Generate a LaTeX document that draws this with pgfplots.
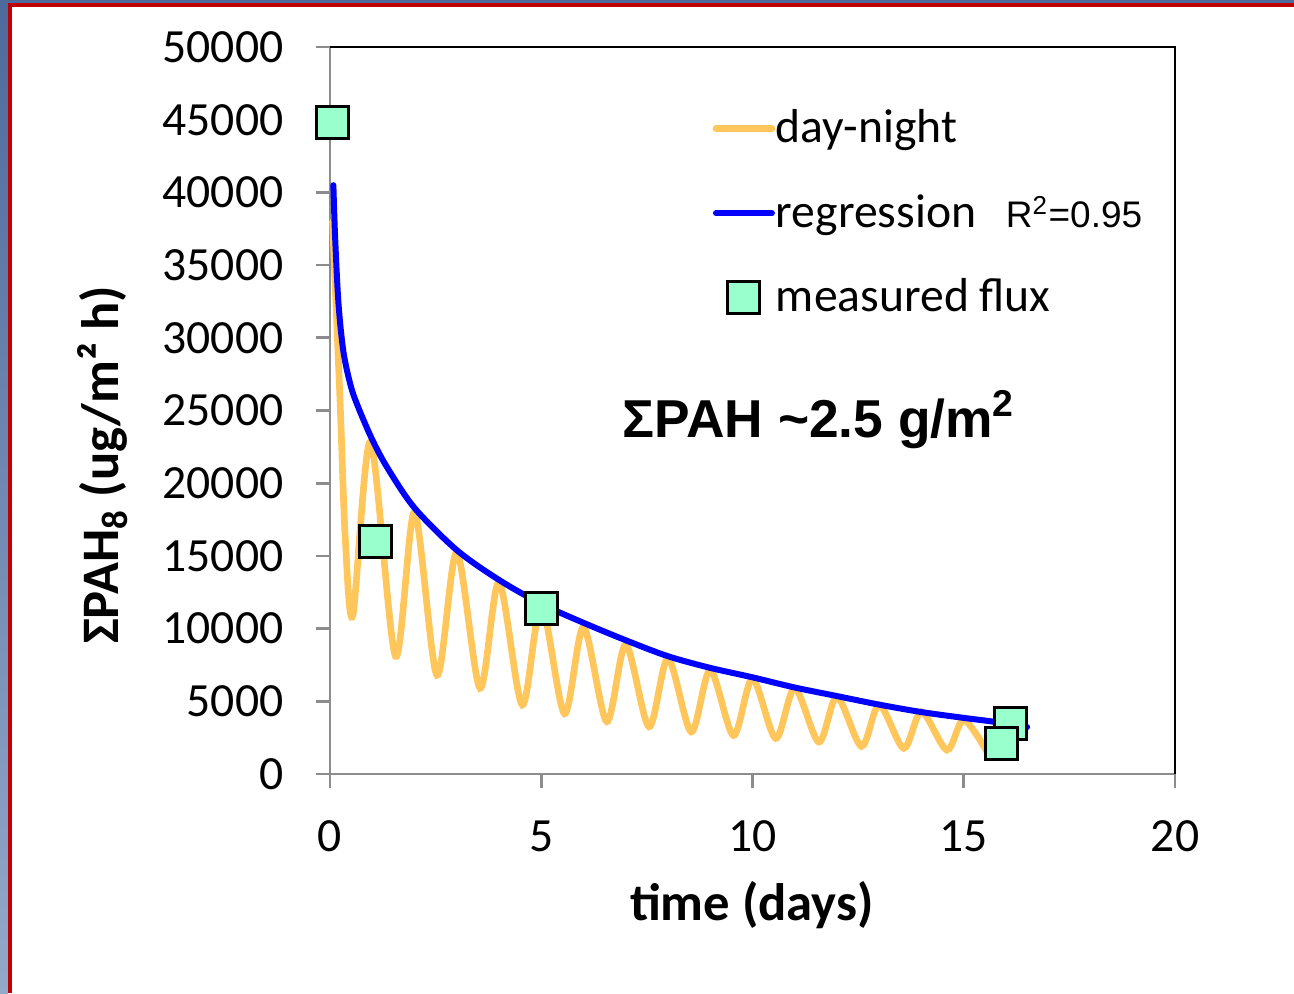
\documentclass[border=0pt]{standalone}
\usepackage{fontspec}
\setmainfont{Carlito}
\newfontfamily\arial{Liberation Sans}
\usepackage{pgfplots}
\pgfplotsset{compat=1.18}
\definecolor{daynight}{HTML}{FFC65C}
\definecolor{markfill}{HTML}{99FFCC}
\definecolor{axgray}{HTML}{8C8C8C}
\definecolor{slideblue}{HTML}{4D6A9C}
\definecolor{slidebluelight}{HTML}{94A8C9}
\definecolor{slidered}{HTML}{C00000}
\pgfplotsset{
  lineleg/.style={legend image code/.code={\draw[##1] (0pt,0pt) -- (16.8pt,0pt);}},
  markleg/.style={legend image code/.code={\draw[mark repeat=2,mark phase=2,##1] plot coordinates {(0pt,0pt)(8.4pt,0pt)(16.8pt,0pt)};}},
}

\begin{document}
\begin{tikzpicture}
% slide frame (1px = 0.3pt)
\path[use as bounding box] (-99pt,-65.7pt) rectangle (289.2pt,232.2pt);
\shade[top color=slideblue, bottom color=slidebluelight] (-99pt,-65.7pt) rectangle (-96.6pt,232.2pt);
\fill[slideblue] (-96.6pt,231.3pt) rectangle (289.2pt,232.2pt);
\fill[slidered] (-96.6pt,-65.7pt) rectangle (-95.4pt,231.3pt);
\fill[slidered] (-95.4pt,230.1pt) rectangle (289.2pt,231.3pt);

\begin{axis}[
  scale only axis, width=253.5pt, height=218.1pt,
  xmin=0, xmax=20, ymin=0, ymax=50000,
  xtick={0,5,10,15,20}, ytick={0,5000,...,50000},
  scaled y ticks=false,
  /pgf/number format/1000 sep={},
  /pgf/number format/assume math mode=true,
  axis lines=left,
  axis line style={-, draw=axgray, line width=0.8pt},
  tick style={draw=axgray, line width=0.8pt},
  tick align=outside, major tick length=4.2pt,
  ticklabel style={font=\fontsize{14.3}{16}\selectfont, inner sep=0pt},
  yticklabel style={anchor=east, xshift=-9.6pt},
  xticklabel style={anchor=north, yshift=-9.6pt},
  xlabel={time (days)},
  ylabel={ΣPAH\textsubscript{8} (ug/m² h)},
  xlabel style={at={(axis description cs:0.4994,-0.18)}, anchor=center, font=\fontsize{15.8}{18}\selectfont\bfseries},
  ylabel style={at={(axis description cs:-0.2686,0.425)}, anchor=center, font=\fontsize{15.8}{18}\selectfont\bfseries},
  clip=false,
  legend cell align=left,
  legend style={at={(axis description cs:0.452,0.924)}, anchor=north west,
    draw=none, fill=none, inner sep=0pt, row sep=10pt,
    font=\fontsize{14.3}{16}\selectfont, nodes={inner xsep=0.2pt}},
]
\draw[black, line width=0.6pt] (rel axis cs:0,1) -- (rel axis cs:1,1) -- (rel axis cs:1,0);

\addplot[daynight, line width=2pt, smooth, line cap=round, lineleg]
  coordinates {
  (0.06,38000)(0.24,25500)(0.36,16300)(0.54,10900)(0.96,22850)
  (1.55,8100)(2.0,18000)(2.53,6800)(3.0,15250)(3.55,5900)(4.0,13200)
  (4.55,4750)(5.0,11600)(5.55,4150)(6.0,10100)(6.55,3600)(7.0,8900)
  (7.55,3250)(8.0,7950)(8.55,2900)(9.0,7150)(9.55,2650)(10.0,6550)
  (10.55,2450)(11.0,5900)(11.57,2200)(12.0,5300)(12.58,1900)(13.0,4750)
  (13.58,1770)(14.0,4280)(14.6,1650)(15.0,3720)(15.57,1420)};

\addplot[blue, line width=1.8pt, smooth, line cap=round, lineleg]
  coordinates {
  (0.08,40500)(0.12,37000)(0.2,32400)(0.32,29000)(0.5,26600)(0.7,25000)
  (1.0,23000)(1.35,21100)(2.0,18300)(3.0,15400)(4.0,13350)(5.0,11700)
  (6.0,10400)(7.0,9200)(8.0,8100)(9.0,7300)(10.0,6650)(11.0,5950)
  (12.0,5360)(13.0,4770)(14.0,4260)(15.0,3860)(15.7,3600)(16.5,3230)};

\addplot[only marks, mark=square*, mark size=4.8pt,
  mark options={fill=markfill, draw=black, line width=0.9pt}, markleg]
  coordinates {(0.07,44840)(1.07,16020)(5.0,11350)(16.1,3500)(15.9,2130)};

\legend{day-night, regression, measured flux}

\node[anchor=west, inner sep=0pt, font=\arial\fontsize{11.1}{13}\selectfont] at (axis cs:15.98,38650) {R\textsuperscript{2}=0.95};
\node[anchor=base west, inner sep=0pt, font=\arial\bfseries\fontsize{16}{19}\selectfont] at (axis cs:6.91,23177) {ΣPAH \textasciitilde2.5 g/m\textsuperscript{2}};
\end{axis}
\end{tikzpicture}
\end{document}
